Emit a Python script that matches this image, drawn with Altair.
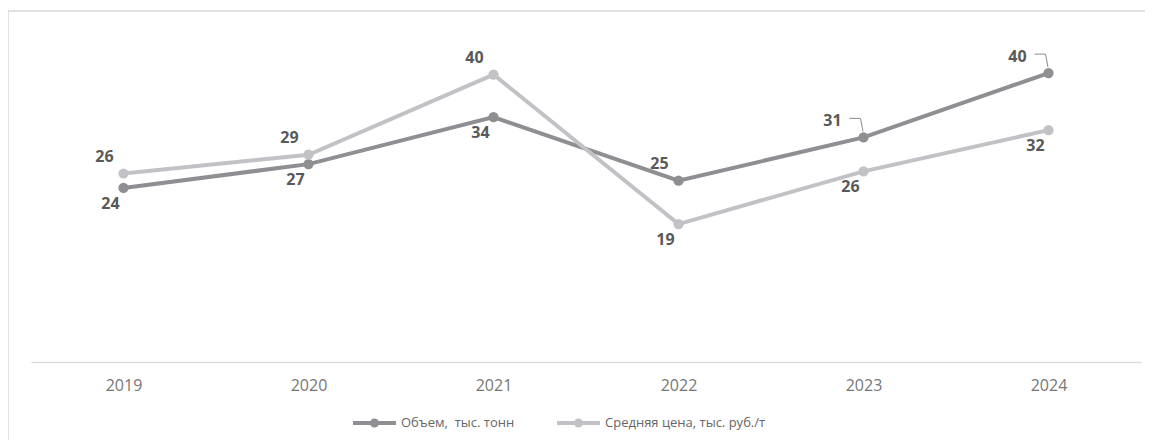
import altair as alt
import pandas as pd

years = ["2019", "2020", "2021", "2022", "2023", "2024"]
volume = [24.1, 27.4, 33.9, 25.1, 31.1, 40.0]
price = [26.1, 28.7, 39.8, 19.1, 26.4, 32.1]
vol_name = "Объем,\u00a0 тыс. тонн"
price_name = "Средняя цена, тыс. руб./т"
vol_place = ["below", "below", "below", "above", "lead", "lead"]
price_place = ["above", "above", "above", "below", "below", "below"]

DARK = "#8e8e93"
LIGHT = "#c2c2c6"
LABEL = "#595959"
FONT = "Open Sans"

rows = []
for y, v, p in zip(years, volume, vol_place):
    rows.append({"year": y, "series": vol_name, "value": v, "place": p})
for y, v, p in zip(years, price, price_place):
    rows.append({"year": y, "series": price_name, "value": v, "place": p})
df = pd.DataFrame(rows)

x_enc = alt.X("year:O", scale=alt.Scale(type="point", padding=0.5),
              axis=alt.Axis(title=None, labelAngle=0, ticks=False, domainColor="#d9d9d9",
                            domainWidth=1.5, labelColor="#767676", labelFont=FONT,
                            labelFontSize=16, labelPadding=15))
y_enc = alt.Y("value:Q", scale=alt.Scale(domain=[0, 45], nice=False, zero=True), axis=None)

legend_path = ("M-1,0L1,0M0.12,0A0.12,0.12 0 1,1 -0.12,0A0.12,0.12 0 1,1 0.12,0Z")
color_enc = alt.Color("series:N",
                      scale=alt.Scale(domain=[vol_name, price_name], range=[DARK, LIGHT]),
                      sort=[vol_name, price_name],
                      legend=alt.Legend(title=None, orient="none", legendX=320, legendY=362,
                                        direction="horizontal", symbolType=legend_path,
                                        symbolSize=1849, symbolStrokeWidth=4,
                                        labelFont=FONT, labelFontSize=13, labelColor="#666666",
                                        labelOffset=3, columnPadding=34, labelLimit=500))

base = alt.Chart(df)

lines = base.mark_line(strokeWidth=4).encode(x=x_enc, y=y_enc, color=color_enc,
                                              order=alt.Order("year:O"))
points = base.mark_point(filled=True, size=105, opacity=1).encode(
    x=x_enc, y=y_enc, color=alt.Color("series:N", legend=None,
                                      scale=alt.Scale(domain=[vol_name, price_name], range=[DARK, LIGHT])))

def labels(place, dx, dy):
    return base.transform_filter(alt.datum.place == place).mark_text(
        font=FONT, fontSize=16, fontWeight="bold", color=LABEL, dx=dx, dy=dy,
        baseline="middle", align="center").encode(
        x=x_enc, y=y_enc, text=alt.Text("value:Q", format=".0f"))

lab_above = labels("above", -19, -17)
lab_below = labels("below", -13, 16)
lab_lead = labels("lead", -31, -16)

lead_h = base.transform_filter(alt.datum.place == "lead").mark_rule(
    color="#8c8c8c", strokeWidth=1, xOffset=-14, x2Offset=-3, yOffset=-19, y2Offset=-19).encode(
    x=x_enc, x2="year:O", y=y_enc, y2="value:Q")
lead_d = base.transform_filter(alt.datum.place == "lead").mark_rule(
    color="#8c8c8c", strokeWidth=1, xOffset=-3, x2Offset=-0.5, yOffset=-19, y2Offset=-6).encode(
    x=x_enc, x2="year:O", y=y_enc, y2="value:Q")

frame_top = alt.Chart(alt.Data(values=[{"edge": "top"}])).mark_rule(
    stroke="#d9d9d9", strokeWidth=1.5).encode(
    x=alt.value(-23), x2=alt.value(1300), y=alt.value(-26), y2=alt.value(-26))
frame_left = alt.Chart(alt.Data(values=[{"edge": "left"}])).mark_rule(
    stroke="#d9d9d9", strokeWidth=1.5).encode(
    x=alt.value(-23), x2=alt.value(-23), y=alt.value(-26), y2=alt.value(403))

chart = alt.layer(frame_top, frame_left, lines, points, lead_h, lead_d,
                  lab_above, lab_below, lab_lead).properties(
    width=1110, height=325,
    padding={"left": 23, "top": 29, "right": 4, "bottom": 78},
    autosize=alt.AutoSizeParams(type="none"),
).configure_view(stroke=None).resolve_scale(color="independent")

chart.save("out.html", embed_options={"renderer": "svg", "actions": False})
